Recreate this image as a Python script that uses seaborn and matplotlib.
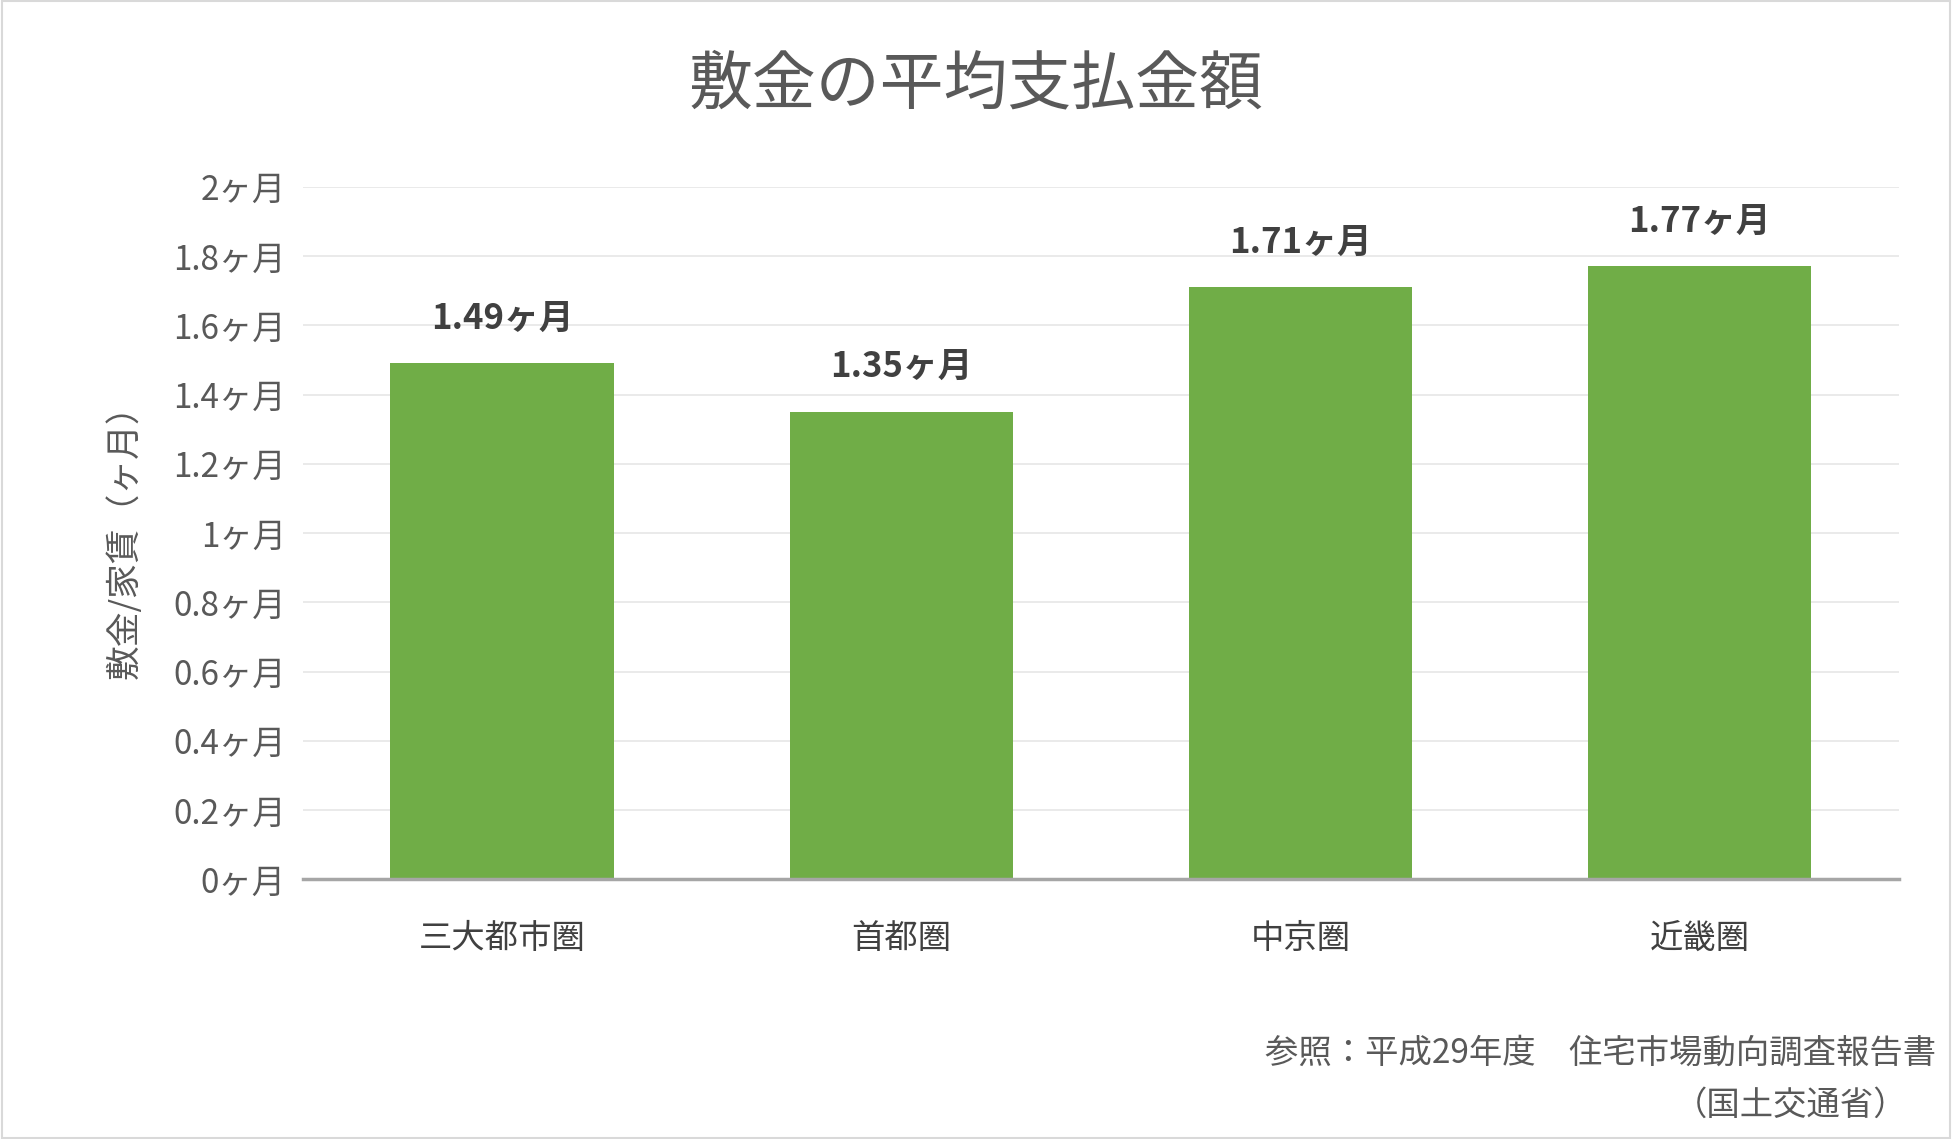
import matplotlib
matplotlib.use("Agg")
import matplotlib.pyplot as plt
import seaborn as sns
import pandas as pd
from matplotlib.patches import Rectangle

plt.rcParams["font.family"] = "Noto Sans CJK JP"

regions = ["三大都市圏", "首都圏", "中京圏", "近畿圏"]
months = [1.49, 1.35, 1.71, 1.77]
yticks = [0, 0.2, 0.4, 0.6, 0.8, 1, 1.2, 1.4, 1.6, 1.8, 2]
ytick_labels = ["0ヶ月", "0.2ヶ月", "0.4ヶ月", "0.6ヶ月", "0.8ヶ月", "1ヶ月",
                "1.2ヶ月", "1.4ヶ月", "1.6ヶ月", "1.8ヶ月", "2ヶ月"]

df = pd.DataFrame({"region": regions, "months": months})

fig = plt.figure(figsize=(19.52, 11.39), dpi=100)
ax = fig.add_axes([0.155, 0.228, 0.818, 0.608])
sns.barplot(data=df, x="region", y="months", color="#70AD47", width=0.56,
            saturation=1, ax=ax)

ax.set_ylim(0, 2)
ax.set_yticks(yticks)
ax.set_yticklabels(ytick_labels, fontsize=24, color="#595959")
ax.tick_params(axis="x", labelsize=24, labelcolor="#404040", length=0, pad=30)
ax.tick_params(axis="y", length=0, pad=12)
ax.grid(axis="y", color="#E6E6E6", linewidth=1.2)
ax.set_axisbelow(True)
for s in ["top", "right", "left"]:
    ax.spines[s].set_visible(False)
ax.spines["bottom"].set_color("#A6A6A6")
ax.spines["bottom"].set_linewidth(2.5)
ax.set_xlabel("")
ax.set_ylabel("敷金/家賃（ヶ月）", fontsize=25, color="#595959", labelpad=22)

for i, v in enumerate(months):
    ax.text(i, v + 0.13, f"{v:.2f}ヶ月", ha="center", va="center",
            fontsize=25, fontweight="bold", color="#404040")

fig.text(0.5, 0.925, "敷金の平均支払金額", ha="center", va="center",
         fontsize=46, color="#595959")
fig.text(0.992, 0.075, "参照：平成29年度　住宅市場動向調査報告書", ha="right",
         va="center", fontsize=24, color="#595959")
fig.text(0.977, 0.03, "（国土交通省）", ha="right", va="center",
         fontsize=24, color="#595959")

fig.patches.append(Rectangle((0.001, 0.001), 0.998, 0.998, transform=fig.transFigure,
                             fill=False, edgecolor="#D9D9D9", linewidth=1.5))

fig.savefig("out.png", dpi=100)
